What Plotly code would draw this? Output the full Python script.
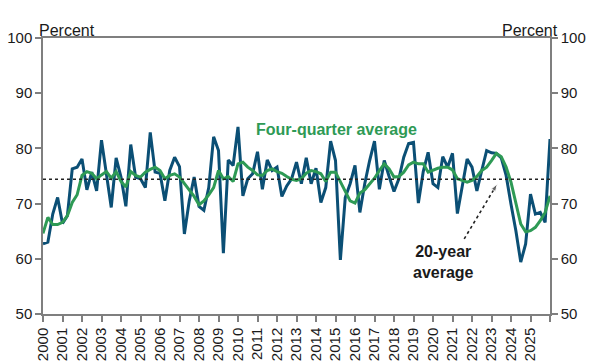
import plotly.graph_objects as go

# Quarterly series, 2000Q1 onward (percent)
quarterly = [
    62.7, 63.0, 68.1, 71.1, 66.4, 67.8, 76.3, 76.6, 78.1, 72.5,
    75.7, 72.3, 81.5, 75.1, 69.3, 78.3, 74.8, 69.5, 80.7, 74.8,
    74.5, 72.9, 82.9, 75.7, 75.5, 70.5, 76.0, 78.4, 76.7, 64.5,
    70.5, 74.8, 69.5, 68.8, 72.9, 82.1, 79.6, 61.0, 77.9, 76.9,
    83.9, 71.4, 74.5, 75.4, 79.4, 72.6, 77.9, 76.0, 76.6, 71.3,
    73.2, 74.5, 77.5, 73.6, 78.3, 73.6, 76.4, 70.2, 72.9, 81.3,
    77.8, 59.8, 71.1, 73.6, 76.9, 68.4, 73.6, 77.8, 81.3, 72.6,
    77.8, 74.9, 72.2, 74.5, 78.4, 80.9, 81.1, 70.1, 75.8, 79.3,
    73.6, 72.9, 78.5, 76.6, 79.1, 68.2, 73.2, 78.1, 76.6, 72.3,
    76.0, 79.6, 79.2, 79.1, 78.3, 75.1, 69.9, 65.1, 59.4, 62.7,
    71.7, 68.1, 68.4, 66.6, 81.7,
]

four_quarter_avg = [
    64.6, 67.5, 66.2, 66.2, 66.6, 67.8, 70.2, 71.6, 75.1, 75.8,
    75.5, 74.5, 75.2, 75.8, 74.6, 75.8, 74.0, 73.0, 75.8, 75.1,
    74.8, 75.7, 76.2, 76.6, 76.0, 74.5, 75.1, 75.4, 74.8, 73.6,
    72.3, 71.3, 69.8, 70.5, 71.6, 72.9, 76.0, 74.5, 74.9, 74.0,
    77.2, 77.5, 76.6, 76.0, 75.2, 75.1, 76.0, 76.3, 75.8, 75.5,
    74.9, 74.4, 74.2, 74.5, 75.5, 76.0, 75.8, 75.4, 74.0, 75.7,
    75.7, 73.9, 72.4, 70.5, 70.1, 71.9, 72.5, 73.6, 74.6, 76.0,
    77.2, 76.3, 74.8, 74.9, 75.7, 77.0, 77.5, 77.2, 77.2, 75.7,
    76.1, 76.4, 76.6, 76.6, 76.1, 74.5, 74.2, 73.9, 74.2, 74.9,
    76.0, 76.6, 77.8, 79.1, 78.5, 76.6, 73.9, 69.9, 66.3, 64.9,
    65.1, 65.7, 66.9, 68.4, 71.4,
]

twenty_year_avg = 74.4

years = list(range(2000, 2027))
year_labels = [str(y) for y in range(2000, 2026)] + [""]

x_vals = [2000 + i / 4 for i in range(len(quarterly))]

FONT = "Liberation Sans, Arial, sans-serif"
BLUE = "#0b4f75"
GREEN = "#2e9a55"
AXIS = "#7f7f7f"

fig = go.Figure()

# 20-year average dotted line (on y2 so the right axis is drawn)
fig.add_trace(go.Scatter(
    x=[years[0], years[-1]], y=[twenty_year_avg, twenty_year_avg],
    mode="lines", line=dict(color="#222222", width=1.6, dash="dot"),
    yaxis="y2", hoverinfo="skip", showlegend=False,
))

fig.add_trace(go.Scatter(
    x=x_vals, y=quarterly, mode="lines",
    line=dict(color=BLUE, width=3), showlegend=False,
))
fig.add_trace(go.Scatter(
    x=x_vals, y=four_quarter_avg, mode="lines",
    line=dict(color=GREEN, width=3), showlegend=False,
))

# dotted arrow to the average line
arrow_x = [2021.6, 2023.3]
arrow_y = [63.6, 73.6]
fig.add_trace(go.Scatter(
    x=arrow_x, y=arrow_y, mode="lines+markers",
    line=dict(color="#222222", width=1.6, dash="dot"),
    marker=dict(symbol="arrow", angleref="previous", size=[0, 8],
                color="#222222"),
    hoverinfo="skip", showlegend=False,
))

axis_common = dict(
    showline=True, linecolor=AXIS, linewidth=1.5,
    ticks="outside", tickcolor=AXIS, tickwidth=1.5, ticklen=6,
    showgrid=False, zeroline=False, automargin=False,
    tickfont=dict(family=FONT, size=15, color="#1a1a1a"),
)

fig.update_layout(
    width=593, height=364, autosize=False,
    margin=dict(l=43, r=43, t=38, b=50, autoexpand=False),
    paper_bgcolor="white", plot_bgcolor="white",
    xaxis=dict(
        range=[2000, 2026], tickmode="array", tickvals=years,
        ticktext=year_labels, tickangle=-90, mirror=True,
        **axis_common,
    ),
    yaxis=dict(range=[50, 100], dtick=10, tick0=50, **axis_common),
    yaxis2=dict(range=[50, 100], dtick=10, tick0=50, overlaying="y",
                side="right", **axis_common),
    annotations=[
        dict(text="Percent", xref="paper", yref="paper", x=0, y=1,
             xanchor="left", yanchor="bottom", xshift=-6, yshift=-3,
             showarrow=False, font=dict(family=FONT, size=16, color="#1a1a1a")),
        dict(text="Percent", xref="paper", yref="paper", x=1, y=1,
             xanchor="right", yanchor="bottom", xshift=10, yshift=-3,
             showarrow=False, font=dict(family=FONT, size=16, color="#1a1a1a")),
        dict(text="<b>Four-quarter average</b>", x=2015.05, y=83.4,
             xanchor="center", yanchor="middle", showarrow=False,
             font=dict(family=FONT, size=16, color=GREEN)),
        dict(text="<b>20-year<br>average</b>", x=2020.55, y=59.4,
             xanchor="center", yanchor="middle", showarrow=False,
             font=dict(family=FONT, size=16, color="#1a1a1a")),
    ],
)

fig.write_html("out.html", config={"displayModeBar": False},
               post_script="document.body.style.margin='0';")
